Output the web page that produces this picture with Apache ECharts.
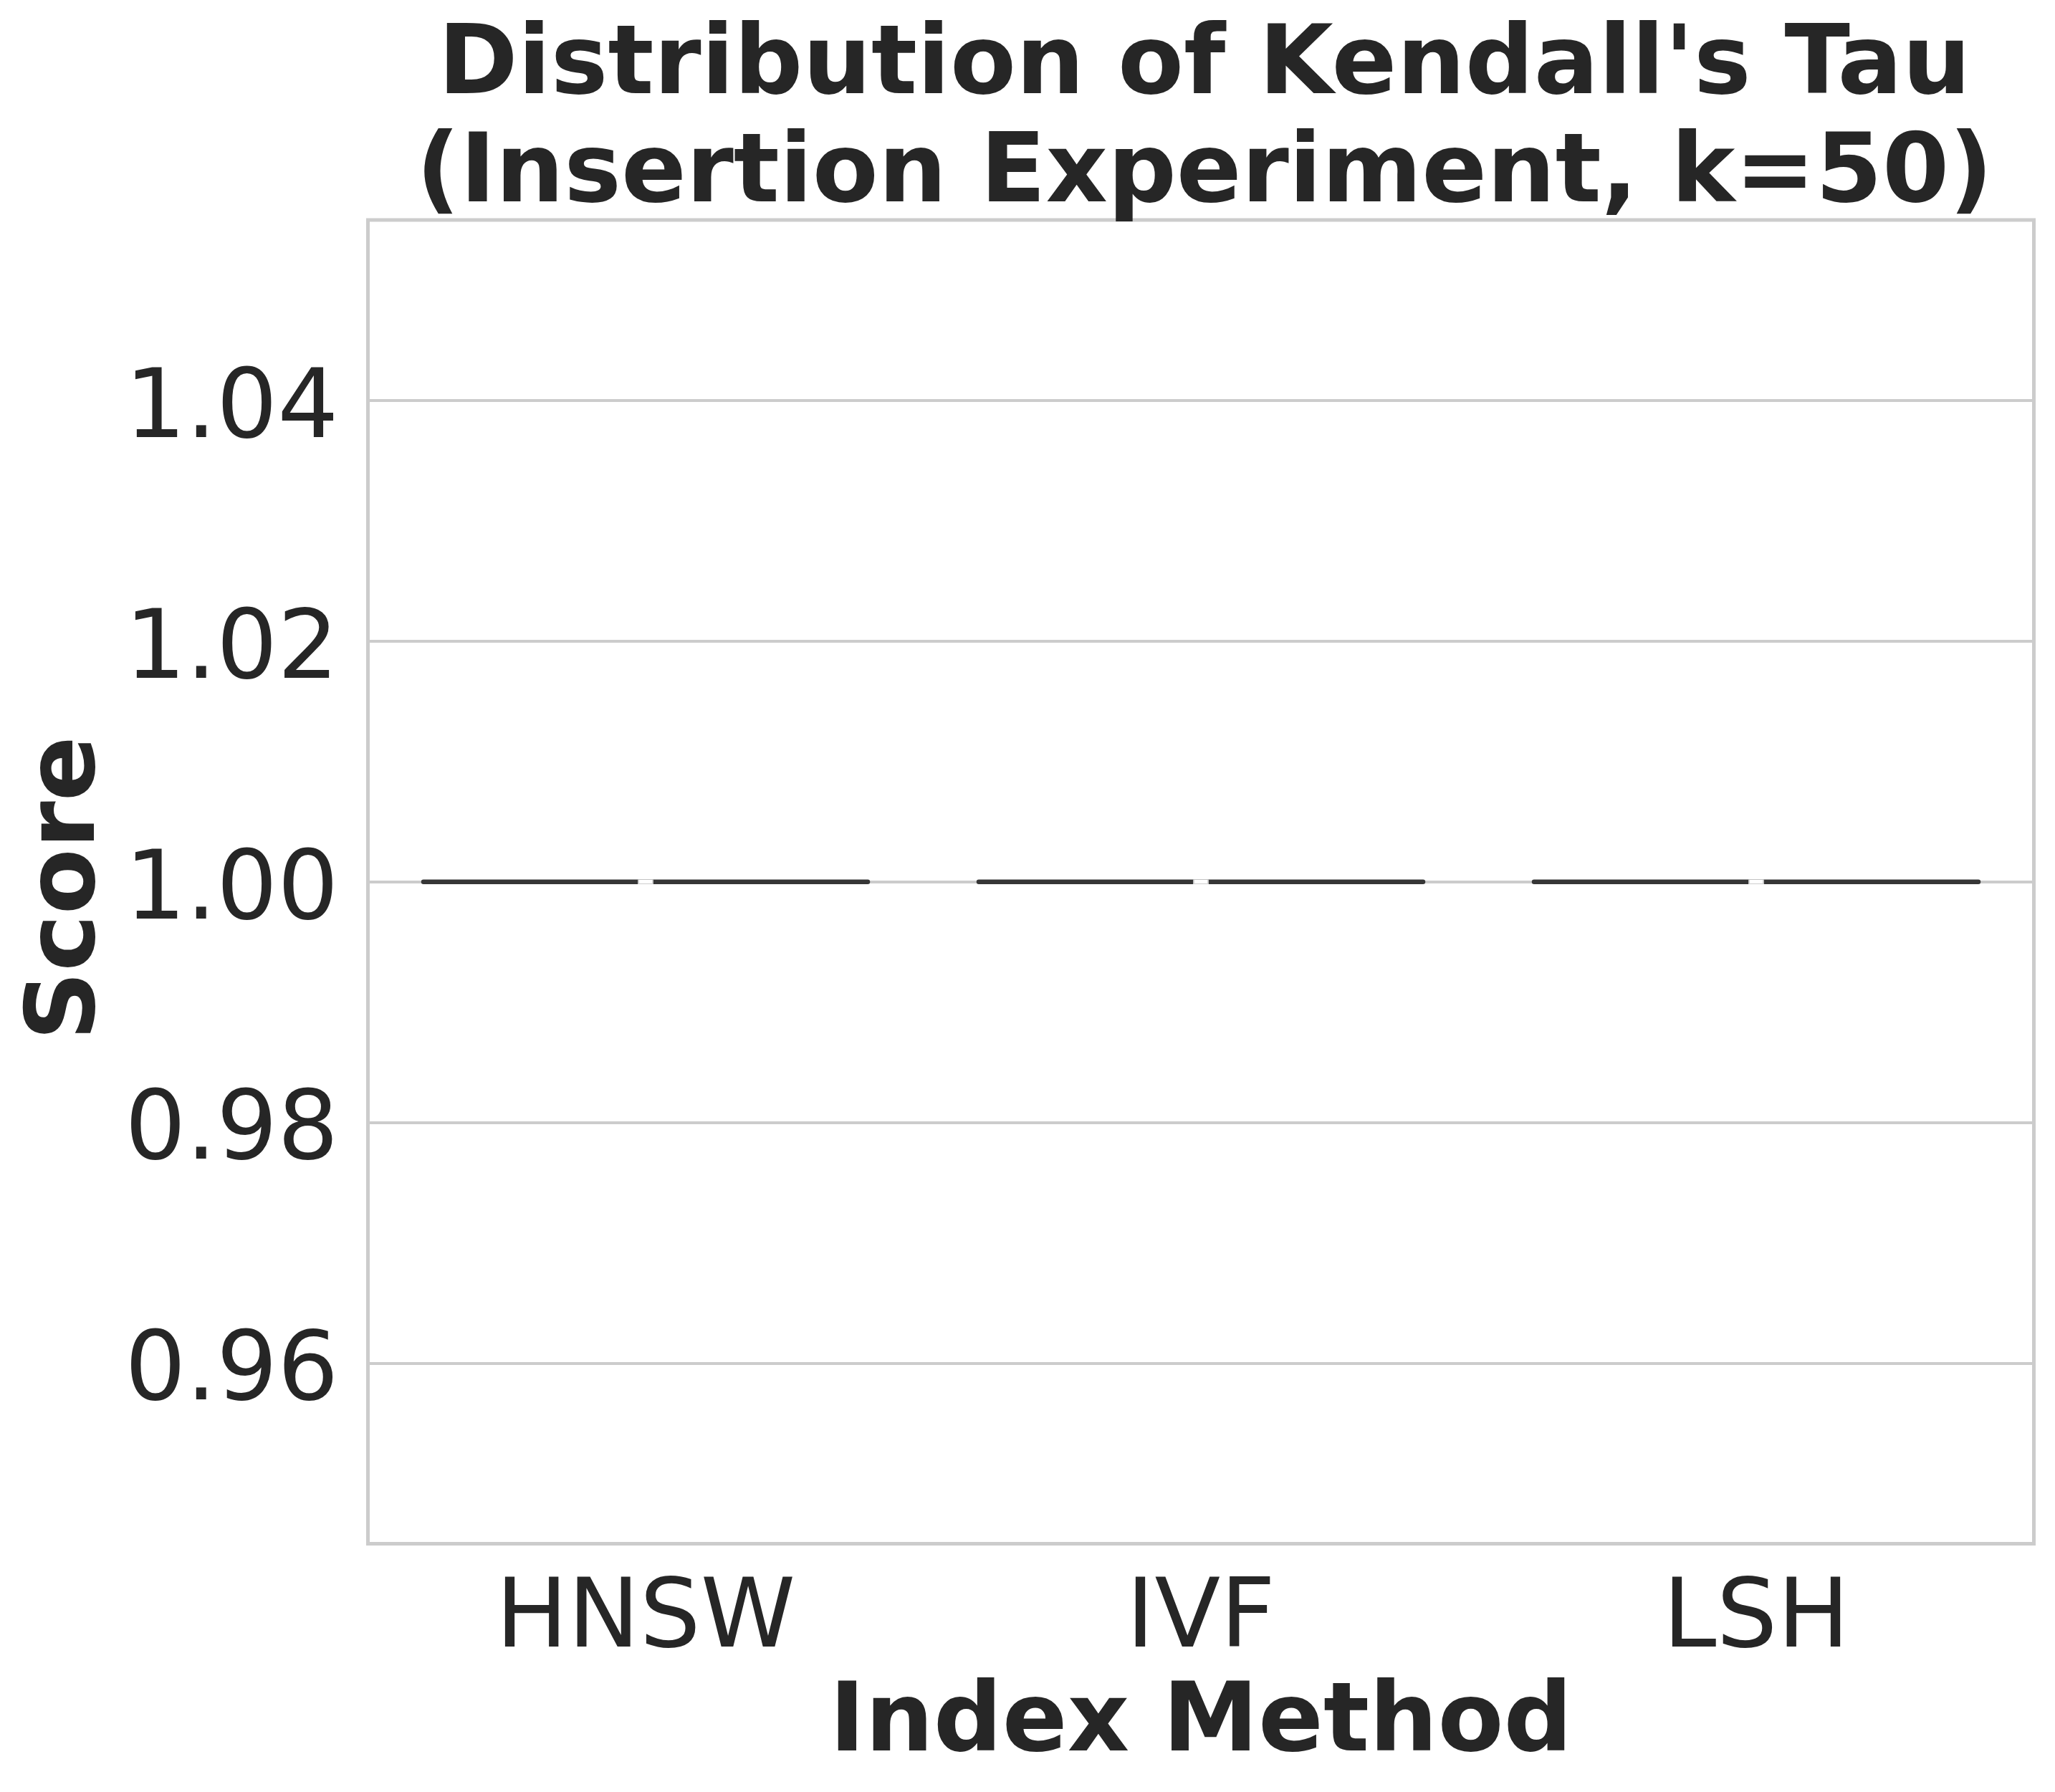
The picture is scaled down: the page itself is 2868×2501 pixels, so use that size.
<!DOCTYPE html>
<html>
<head>
<meta charset="utf-8">
<script src="https://cdn.jsdelivr.net/npm/echarts@6/dist/echarts.min.js"></script>
<style>
html,body{margin:0;padding:0;background:#fff;}
#chart{width:2868px;height:2501px;}
</style>
</head>
<body>
<div id="chart"></div>
<script>
const categories = ['HNSW', 'IVF', 'LSH'];
// box statistics per method: [min, Q1, median, Q3, max]
const statsHNSW = [1.0, 1.0, 1.0, 1.0, 1.0];
const statsIVF = [1.0, 1.0, 1.0, 1.0, 1.0];
const statsLSH = [1.0, 1.0, 1.0, 1.0, 1.0];
const yTicks = [0.96, 0.98, 1.00, 1.02, 1.04];
const yMin = 0.945;
const yMax = 1.055;

const boxData = [statsHNSW, statsIVF, statsLSH];
const medians = boxData.map((s, i) => [categories[i], s[2]]);

const FONT = 'DejaVu Sans';
const TXT = '#262626';
const chart = echarts.init(document.getElementById('chart'), null, {renderer: 'canvas'});
chart.setOption({
  backgroundColor: '#ffffff',
  animation: false,
  title: {
    text: "Distribution of Kendall's Tau\n(Insertion Experiment, k=50)",
    left: 1676,
    textAlign: 'center',
    top: 15,
    textStyle: {fontFamily: FONT, fontWeight: 'bold', fontSize: 134, lineHeight: 151, color: TXT}
  },
  grid: {
    left: 513.5, top: 307, width: 2325, height: 1847.5,
    show: true, borderColor: '#cccccc', borderWidth: 5, backgroundColor: 'transparent'
  },
  xAxis: {
    type: 'category',
    data: categories,
    boundaryGap: true,
    name: 'Index Method',
    nameLocation: 'middle',
    nameGap: 187,
    nameTextStyle: {fontFamily: FONT, fontWeight: 'bold', fontSize: 134, color: TXT},
    axisLine: {show: false},
    axisTick: {show: false},
    splitLine: {show: false},
    axisLabel: {fontFamily: FONT, fontSize: 134, color: TXT, margin: 42}
  },
  yAxis: {
    type: 'value',
    min: yMin,
    max: yMax,
    name: 'Score',
    nameLocation: 'middle',
    nameGap: 314,
    nameTextStyle: {fontFamily: FONT, fontWeight: 'bold', fontSize: 134, color: TXT, padding: [0, 18, 0, 0]},
    axisLine: {show: false},
    axisTick: {show: false, customValues: yTicks},
    splitLine: {show: true, lineStyle: {color: '#cccccc', width: 4}},
    axisLabel: {
      fontFamily: FONT, fontSize: 134, color: TXT, margin: 41,
      customValues: yTicks,
      formatter: v => '{v|' + v.toFixed(2) + '}',
      rich: {
        v: {fontFamily: FONT, fontSize: 134, color: TXT, lineHeight: 166, verticalAlign: 'bottom'}
      }
    }
  },
  series: [
    {
      type: 'boxplot',
      data: boxData,
      boxWidth: ['80%', '80%'],
      itemStyle: {color: 'rgba(0,0,0,0)', borderColor: '#363636', borderWidth: 6.5, borderCap: 'round'},
      z: 3
    },
    {
      type: 'scatter',
      data: medians,
      symbol: 'rect',
      symbolSize: [20, 6],
      itemStyle: {color: '#ffffff', opacity: 1, borderColor: '#d0d0d0', borderWidth: 1},
      z: 4
    }
  ]
});
</script>
</body>
</html>
